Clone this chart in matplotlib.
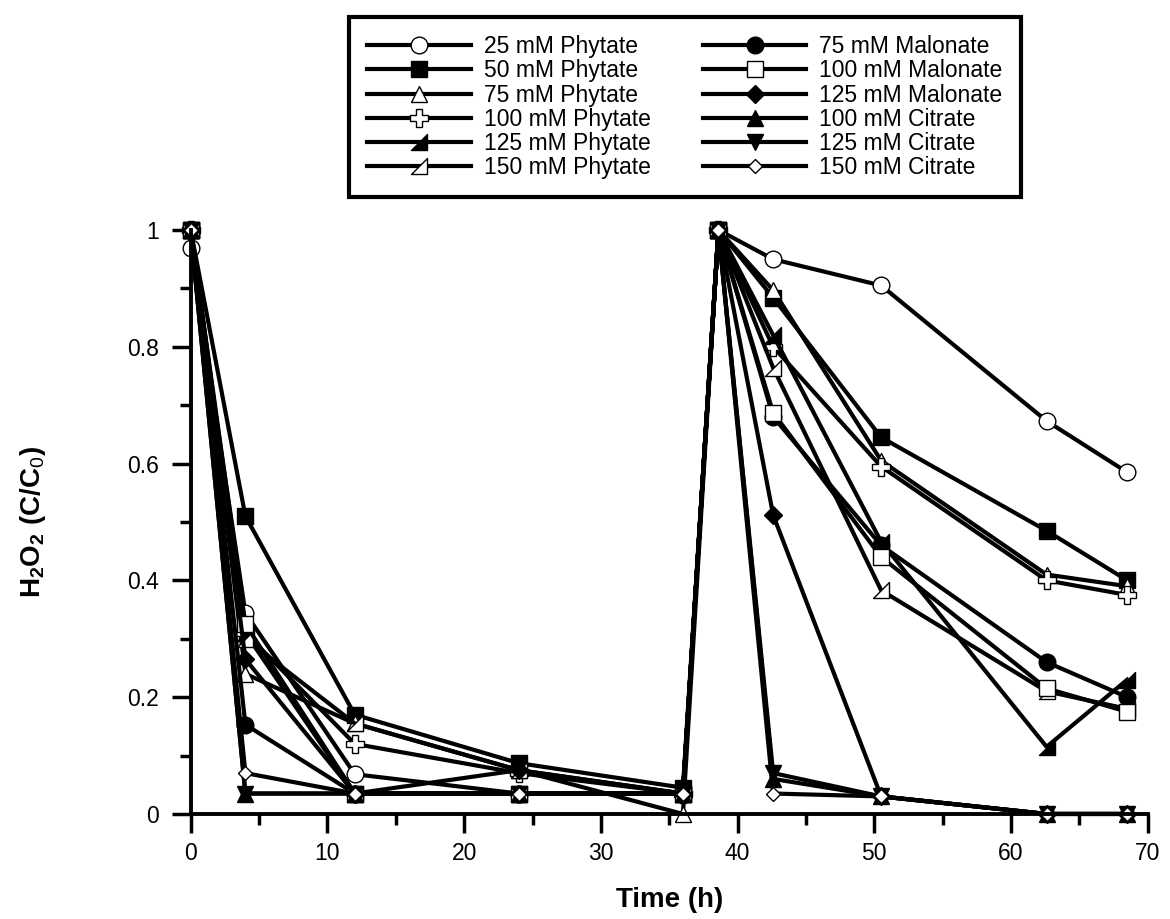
import numpy as np
import matplotlib
matplotlib.use('Agg')
import matplotlib.pyplot as plt
from matplotlib.path import Path
from matplotlib.ticker import MultipleLocator, FormatStrFormatter

plt.rcParams['font.family'] = ['Liberation Sans', 'DejaVu Sans']
plt.rcParams['mathtext.fontset'] = 'custom'
plt.rcParams['mathtext.rm'] = 'Liberation Sans'
plt.rcParams['mathtext.bf'] = 'Liberation Sans:bold'

# sampling times (h)
t = [0, 4, 12, 24, 36, 38.6, 42.6, 50.5, 62.6, 68.5]

# H2O2 C/C0 for each additive
phy25 = [0.97, 0.344, 0.068, 0.035, 0.035, 1.0, 0.95, 0.905, 0.673, 0.585]
phy50 = [1.0, 0.51, 0.17, 0.087, 0.045, 1.0, 0.884, 0.645, 0.485, 0.40]
phy75 = [1.0, 0.24, 0.155, 0.075, 0.0, 1.0, 0.897, 0.605, 0.41, 0.39]
phy100 = [1.0, 0.31, 0.12, 0.07, 0.035, 1.0, 0.80, 0.595, 0.40, 0.375]
phy125 = [1.0, 0.31, 0.035, 0.035, 0.035, 1.0, 0.82, 0.466, 0.115, 0.23]
phy150 = [1.0, 0.30, 0.155, 0.075, 0.035, 1.0, 0.764, 0.383, 0.21, 0.18]
mal75 = [1.0, 0.153, 0.035, 0.035, 0.035, 1.0, 0.68, 0.46, 0.26, 0.20]
mal100 = [1.0, 0.325, 0.035, 0.035, 0.035, 1.0, 0.687, 0.44, 0.215, 0.175]
mal125 = [1.0, 0.265, 0.035, 0.075, 0.035, 1.0, 0.512, 0.03, 0.0, 0.0]
cit100 = [1.0, 0.035, 0.035, 0.035, 0.035, 1.0, 0.06, 0.03, 0.0, 0.0]
cit125 = [1.0, 0.035, 0.035, 0.035, 0.035, 1.0, 0.07, 0.03, 0.0, 0.0]
cit150 = [1.0, 0.07, 0.035, 0.035, 0.035, 1.0, 0.035, 0.03, 0.0, 0.0]

labels = ['25 mM Phytate', '50 mM Phytate', '75 mM Phytate', '100 mM Phytate',
          '125 mM Phytate', '150 mM Phytate', '75 mM Malonate', '100 mM Malonate',
          '125 mM Malonate', '100 mM Citrate', '125 mM Citrate', '150 mM Citrate']
series = [phy25, phy50, phy75, phy100, phy125, phy150,
          mal75, mal100, mal125, cit100, cit125, cit150]

# right-angled triangle marker
rtri = Path([(-1, -1), (1, -1), (1, 1), (-1, -1)],
            [Path.MOVETO, Path.LINETO, Path.LINETO, Path.CLOSEPOLY])

styles = [
    ('o', 'white', 12),
    ('s', 'black', 12),
    ('^', 'white', 12),
    ('P', 'white', 13),
    (rtri, 'black', 12),
    (rtri, 'white', 12),
    ('o', 'black', 12),
    ('s', 'white', 12),
    ('D', 'black', 9),
    ('^', 'black', 12),
    ('v', 'black', 12),
    ('D', 'white', 7.5),
]

fig = plt.figure(figsize=(11.7, 9.19), dpi=100)
ax = fig.add_axes([0.163, 0.1143, 0.818, 0.6354])

handles = []
for y, lab, (m, fc, ms) in zip(series, labels, styles):
    h, = ax.plot(t, y, color='black', lw=3, marker=m, markersize=ms,
                 markerfacecolor=fc, markeredgecolor='black', markeredgewidth=1,
                 label=lab, clip_on=False)
    handles.append(h)

ax.set_xlim(0, 70)
ax.set_ylim(0, 1)
for s in ['top', 'right']:
    ax.spines[s].set_visible(False)
for s in ['left', 'bottom']:
    ax.spines[s].set_linewidth(2.8)

ax.xaxis.set_major_locator(MultipleLocator(10))
ax.xaxis.set_minor_locator(MultipleLocator(5))
ax.yaxis.set_major_locator(MultipleLocator(0.2))
ax.yaxis.set_minor_locator(MultipleLocator(0.1))
ax.yaxis.set_major_formatter(FormatStrFormatter('%g'))
ax.tick_params(which='major', direction='out', length=14, width=2.5, labelsize=16.5)
ax.tick_params(axis='x', which='major', pad=6)
ax.tick_params(axis='y', which='major', pad=9)
ax.tick_params(which='minor', direction='out', length=8, width=2.5)

ax.set_xlabel('Time (h)', fontsize=20, fontweight='bold', labelpad=16)
ax.set_ylabel('H$_\\mathbf{2}$O$_\\mathbf{2}$ (C/C$_\\mathrm{0}$)', fontsize=20,
              fontweight='bold', labelpad=57)

leg = fig.legend(handles=handles, loc='upper center', bbox_to_anchor=(0.5855, 0.9815),
                 ncol=2, fontsize=16.5, frameon=True, fancybox=False, framealpha=1,
                 handlelength=4.5, handletextpad=0.57, columnspacing=2.3,
                 labelspacing=0.05, borderpad=0.8, borderaxespad=0)
leg.get_frame().set_edgecolor('black')
leg.get_frame().set_linewidth(3)

fig.savefig('out.png', dpi=100)
